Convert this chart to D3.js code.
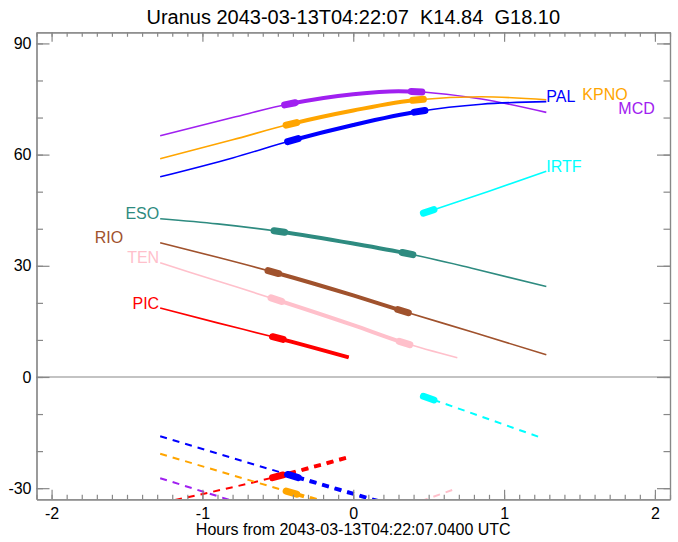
<!DOCTYPE html>
<html>
<head>
<meta charset="utf-8">
<script src="https://cdn.jsdelivr.net/npm/d3@7"></script>
<style>
body { margin: 0; background: #fff; }
text { font-family: "Liberation Sans", Arial, sans-serif; }
</style>
</head>
<body>
<svg width="678" height="542"></svg>
<script>
// ---- data ----
var title = "Uranus 2043-03-13T04:22:07  K14.84  G18.10";
var xTitle = "Hours from 2043-03-13T04:22:07.0400 UTC";
var xTicks = [-2, -1, 0, 1, 2];
var yTicks = [-30, 0, 30, 60, 90];

var sites = ["PAL", "KPNO", "MCD", "IRTF", "ESO", "RIO", "TEN", "PIC"];
var colors = ["#0000ff", "#ffa500", "#a020f0", "#00ffff", "#2e8b80", "#a0522d", "#ffc0cb", "#ff0000"];

// altitude of the target (solid curves)
var palHours = [-1.28, -0.8, -0.41, 0, 0.44, 0.85, 1.28];
var palAlt   = [54.0, 59.1, 63.8, 68.0, 71.7, 73.6, 74.3];
var kpnoHours = [-1.28, -0.8, -0.41, 0, 0.43, 0.85, 1.28];
var kpnoAlt   = [58.9, 64.0, 68.3, 71.9, 74.8, 75.6, 74.8];
var mcdHours = [-1.28, -0.8, -0.42, 0, 0.3, 0.85, 1.28];
var mcdAlt   = [65.1, 70.0, 73.7, 76.3, 77.1, 75.0, 71.4];
var irtfHours = [0.45, 0.9, 1.28];
var irtfAlt   = [44.0, 50.1, 55.5];
var esoHours = [-1.28, -0.9, -0.5, 0, 0.36, 0.8, 1.28];
var esoAlt   = [42.7, 41.3, 39.3, 36.0, 33.3, 29.2, 24.4];
var rioHours = [-1.28, -0.9, -0.52, 0, 0.32, 0.8, 1.28];
var rioAlt   = [36.2, 32.3, 28.2, 22.0, 17.9, 12.0, 6.0];
var tenHours = [-1.28, -0.9, -0.52, 0, 0.33, 0.69];
var tenAlt   = [30.8, 25.9, 21.0, 14.0, 9.3, 5.2];
var picHours = [-1.28, -0.9, -0.5, -0.03];
var picAlt   = [18.6, 14.6, 10.5, 5.3];

// dashed curves below the horizon line
var palLowHours = [-1.28, -0.41, 0.2];
var palLow      = [-16.0, -26.6, -33.9];
var kpnoLowHours = [-1.28, -0.41, -0.2];
var kpnoLow      = [-20.7, -31.2, -33.7];
var mcdLowHours = [-1.28, -0.7];
var mcdLow      = [-27.3, -34.7];
var irtfLowHours = [0.45, 0.9, 1.26];
var irtfLow      = [-5.0, -11.4, -16.6];
var tenLowHours = [0.45, 0.69];
var tenLow      = [-33.5, -30.0];
var picLowHours = [-1.35, -0.5, -0.03];
var picLow      = [-34.6, -26.8, -21.6];

// marked times and the observing window of each site
var palMarks = [-0.40, 0.44];
var kpnoMarks = [-0.41, 0.43];
var mcdMarks = [-0.42, 0.42];
var irtfMarks = [0.50];
var esoMarks = [-0.49, 0.36];
var rioMarks = [-0.53, 0.33];
var tenMarks = [-0.51, 0.34];
var picMarks = [-0.50];
var windows = [[-0.40, 0.44], [-0.41, 0.43], [-0.42, 0.42], null, [-0.49, 0.36], [-0.53, 0.33], [-0.51, 0.34], [-0.50, -0.03]];

var table = [
  [palHours, palAlt, palLowHours, palLow, palMarks],
  [kpnoHours, kpnoAlt, kpnoLowHours, kpnoLow, kpnoMarks],
  [mcdHours, mcdAlt, mcdLowHours, mcdLow, mcdMarks],
  [irtfHours, irtfAlt, irtfLowHours, irtfLow, irtfMarks],
  [esoHours, esoAlt, null, null, esoMarks],
  [rioHours, rioAlt, null, null, rioMarks],
  [tenHours, tenAlt, tenLowHours, tenLow, tenMarks],
  [picHours, picAlt, picLowHours, picLow, picMarks]
].map(function(r, i) {
  return {
    name: sites[i], color: colors[i], win: windows[i], marks: r[4],
    alt: r[0].map(function(h, j) { return [h, r[1][j]]; }),
    low: r[2] ? r[2].map(function(h, j) { return [h, r[3][j]]; }) : null
  };
});

// label layout (pixels): right-side labels after curve end, left-side before start
var labelSide = ["end", "end", "end", "end", "start", "start", "start", "start"];
var labelDx = [0, 36, 72, 0, -1, -37, -1, -1];
var labelDy = [0.5, 0.5, 1.5, 0.5, 0.5, 0.5, 0.5, 0.5];

// ---- chart ----
var svg = d3.select("svg"),
    pL = 36.5, pR = 670, pT = 32.3, pB = 499.3,
    axisColor = "#888";

var x = d3.scaleLinear().domain([-2.1, 2.1]).range([pL, pR]);
var y = d3.scaleLinear().domain([-33, 93]).range([pB, pT]);

var defs = svg.append("defs");
defs.append("clipPath").attr("id", "plot")
  .append("rect").attr("x", pL).attr("y", pT)
  .attr("width", pR - pL).attr("height", pB - pT);

// zero line
svg.append("line")
  .attr("x1", pL).attr("x2", pR)
  .attr("y1", y(0)).attr("y2", y(0))
  .attr("stroke", axisColor).attr("stroke-width", 1.2);

var line = d3.line()
  .x(function(d) { return x(d[0]); })
  .y(function(d) { return y(d[1]); })
  .curve(d3.curveMonotoneX);

var plot = svg.append("g").attr("clip-path", "url(#plot)");

function pointAtX(node, px) {
  var lo = 0, hi = node.getTotalLength();
  for (var i = 0; i < 30; i++) {
    var mid = (lo + hi) / 2;
    if (node.getPointAtLength(mid).x < px) lo = mid; else hi = mid;
  }
  return node.getPointAtLength(lo);
}

function drawCurve(g, data, s, idx, dashed) {
  var dash = dashed ? "7,6" : null;
  var thin = g.append("path").datum(data)
    .attr("d", line).attr("fill", "none")
    .attr("stroke", s.color).attr("stroke-width", dashed ? 2 : 1.6)
    .attr("stroke-dasharray", dash);
  if (s.win) {
    var cid = "win" + idx + (dashed ? "d" : "s");
    defs.append("clipPath").attr("id", cid)
      .append("rect").attr("x", x(s.win[0])).attr("y", pT)
      .attr("width", x(s.win[1]) - x(s.win[0]) + 2).attr("height", pB - pT);
    g.append("path").datum(data)
      .attr("d", line).attr("fill", "none")
      .attr("clip-path", "url(#" + cid + ")")
      .attr("stroke", s.color).attr("stroke-width", 4)
      .attr("stroke-dasharray", dash);
  }
  var t0 = data[0][0], t1 = data[data.length - 1][0];
  s.marks.forEach(function(t) {
    if (t < t0 || t > t1) return;
    var a = pointAtX(thin.node(), x(Math.max(t0, t - 0.035))),
        b = pointAtX(thin.node(), x(Math.min(t1, t + 0.035)));
    g.append("line")
      .attr("x1", a.x).attr("y1", a.y).attr("x2", b.x).attr("y2", b.y)
      .attr("stroke", s.color).attr("stroke-width", 7)
      .attr("stroke-linecap", "round");
  });
}

// draw from the last site to the first so PAL sits on top
table.slice().reverse().forEach(function(s) {
  var idx = sites.indexOf(s.name);
  var g = plot.append("g");
  if (s.low) drawCurve(g, s.low, s, idx, true);
  drawCurve(g, s.alt, s, idx, false);
});

// labels
table.forEach(function(s, i) {
  var p = labelSide[i] === "end" ? s.alt[s.alt.length - 1] : s.alt[0];
  svg.append("text")
    .attr("x", x(p[0]) + labelDx[i])
    .attr("y", y(p[1]) + labelDy[i])
    .attr("text-anchor", labelSide[i] === "end" ? "start" : "end")
    .attr("fill", s.color)
    .style("font-size", "16px")
    .text(s.name);
});

// axes
function styleAxis(g) {
  g.selectAll("path, line").attr("stroke", axisColor).attr("stroke-width", 1.2);
  g.selectAll("text").attr("fill", "#000").style("font-size", "16px")
    .style("font-family", "'Liberation Sans', Arial, sans-serif");
}
var fmt = function(d) { return String(d); };
var xMinor = d3.range(-21, 22).map(function(i) { return i / 10; });
var yMinor = d3.range(-30, 91, 10);

svg.append("g").attr("transform", "translate(0," + pB + ")")
  .call(d3.axisBottom(x).tickValues(xMinor).tickSizeInner(-4.5).tickSizeOuter(0).tickFormat(""))
  .call(styleAxis);
svg.append("g").attr("transform", "translate(0," + pB + ")")
  .call(d3.axisBottom(x).tickValues(xTicks).tickSizeInner(-9.5).tickSizeOuter(0).tickPadding(8).tickFormat(fmt))
  .call(styleAxis);
svg.append("g").attr("transform", "translate(0," + pT + ")")
  .call(d3.axisTop(x).tickValues(xMinor).tickSizeInner(-4.5).tickSizeOuter(0).tickFormat(""))
  .call(styleAxis);
svg.append("g").attr("transform", "translate(0," + pT + ")")
  .call(d3.axisTop(x).tickValues(xTicks).tickSizeInner(-9.5).tickSizeOuter(0).tickFormat(""))
  .call(styleAxis);
svg.append("g").attr("transform", "translate(" + pL + ",0)")
  .call(d3.axisLeft(y).tickValues(yMinor).tickSizeInner(-6.5).tickSizeOuter(0).tickFormat(""))
  .call(styleAxis);
svg.append("g").attr("transform", "translate(" + pL + ",0)")
  .call(d3.axisLeft(y).tickValues(yTicks).tickSizeInner(-13).tickSizeOuter(0).tickPadding(5).tickFormat(fmt))
  .call(styleAxis);
svg.append("g").attr("transform", "translate(" + pR + ",0)")
  .call(d3.axisRight(y).tickValues(yMinor).tickSizeInner(-6.5).tickSizeOuter(0).tickFormat(""))
  .call(styleAxis);
svg.append("g").attr("transform", "translate(" + pR + ",0)")
  .call(d3.axisRight(y).tickValues(yTicks).tickSizeInner(-13).tickSizeOuter(0).tickFormat(""))
  .call(styleAxis);

// titles
svg.append("text")
  .attr("x", (pL + pR) / 2).attr("y", 24)
  .attr("text-anchor", "middle")
  .style("font-size", "20px").style("white-space", "pre")
  .text(title);
svg.append("text")
  .attr("x", (pL + pR) / 2).attr("y", 535)
  .attr("text-anchor", "middle")
  .style("font-size", "16px")
  .text(xTitle);
</script>
</body>
</html>
